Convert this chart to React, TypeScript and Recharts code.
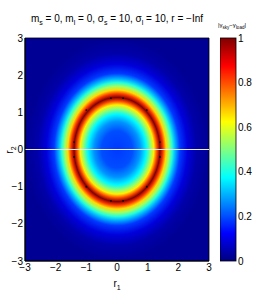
import {ScatterChart, Scatter, XAxis, YAxis, ReferenceArea, ReferenceLine, BarChart, Bar} from "recharts";

// axes
const axisTicks = [-3, -2, -1, 0, 1, 2, 3];
const colorTicks = [0, 0.2, 0.4, 0.6, 0.8, 1];

// radial profile of |γsky − γload| around the origin
const ringRadius = [0, 0.5, 0.75, 0.95, 1.1, 1.2, 1.3, 1.4, 1.5, 1.6, 1.7, 1.8, 1.9, 2.05, 2.3, 2.6, 3];
const ringLevel = [0.18, 0.2, 0.27, 0.37, 0.52, 0.64, 0.8, 1.0, 0.82, 0.66, 0.53, 0.41, 0.3, 0.18, 0.09, 0.04, 0.02];
const backgroundLevel = 0.02;

// small black marks sitting on the ring maximum
const markX = [-0.2, 0.2, -0.2, 0.2, -1.4, -1.4, 1.4, 1.4, -1.0, 0.97, -1.0, 0.97];
const markY = [1.38, 1.38, -1.38, -1.38, 0.2, -0.2, 0.2, -0.2, 1.06, 1.06, -1.0, -1.0];

const font = "'Liberation Sans Narrow', 'Liberation Sans', Arial, sans-serif";

const clamp = (v: number) => Math.max(0, Math.min(1, v));
const jet = (v: number) => {
    const r = clamp(1.5 - Math.abs(4 * v - 3));
    const g = clamp(1.5 - Math.abs(4 * v - 2));
    const b = clamp(1.5 - Math.abs(4 * v - 1));
    const h = (c: number) => Math.round(c * 255).toString(16).padStart(2, "0");
    return `#${h(r)}${h(g)}${h(b)}`;
};

const marks = markX.map((x, i) => ({x, y: markY[i]}));
const outerR = ringRadius[ringRadius.length - 1];
const minus = (v: number) => String(v).replace("-", "\u2212");

const RingShape = (p: any) => (
    <g>
        <defs>
            <radialGradient id="ring" cx="50%" cy="50%" r="50%">
                {ringRadius.map((r, i) => (
                    <stop key={i} offset={r / outerR} stopColor={jet(ringLevel[i])}/>
                ))}
            </radialGradient>
        </defs>
        <ellipse cx={p.x + p.width / 2} cy={p.y + p.height / 2} rx={p.width / 2} ry={p.height / 2} fill="url(#ring)"/>
    </g>
);

const ColorBarShape = (p: any) => (
    <g>
        <defs>
            <linearGradient id="jetbar" x1="0" y1="1" x2="0" y2="0">
                {[0, 0.125, 0.375, 0.625, 0.875, 1].map((v) => (
                    <stop key={v} offset={v} stopColor={jet(v)}/>
                ))}
            </linearGradient>
        </defs>
        <rect x={p.x} y={p.y} width={p.width} height={p.height} fill="url(#jetbar)" stroke="#000" strokeWidth={0.8}/>
    </g>
);

const tickStyle = {fill: "#000", fontSize: 10, fontFamily: font};

const App = () => {
    return (
        <div style={{position: "absolute", left: 0, top: 0, width: 273, height: 300, background: "#fff"}}>
            <ScatterChart width={273} height={300} margin={{top: 38, right: 64, bottom: 9, left: 0}}>
                <XAxis type="number" dataKey="x" domain={[-3, 3]} ticks={axisTicks} allowDataOverflow
                       tickLine={false} tickSize={2} tickMargin={1} height={30} tick={tickStyle}
                       tickFormatter={minus} axisLine={{stroke: "#000"}}/>
                <YAxis type="number" dataKey="y" domain={[-3, 3]} ticks={axisTicks} allowDataOverflow
                       tickLine={false} tickSize={2} tickMargin={0} width={25} tick={tickStyle}
                       tickFormatter={minus} axisLine={{stroke: "#000"}}/>
                <ReferenceArea x1={-3} x2={3} y1={-3} y2={3} fill={jet(backgroundLevel)} fillOpacity={1} stroke="none"/>
                <ReferenceArea x1={-outerR} x2={outerR} y1={-outerR} y2={outerR} shape={RingShape}/>
                <ReferenceLine y={0} stroke="#eeeefa" strokeWidth={1}/>
                <Scatter data={marks} isAnimationActive={false}
                         shape={(p: any) => <circle cx={p.cx} cy={p.cy} r={0.9} fill="#000"/>}/>
                <ReferenceArea x1={-3} x2={3} y1={-3} y2={3} fill="none" stroke="#000" strokeWidth={0.8}/>
            </ScatterChart>

            <div style={{position: "absolute", left: 220, top: 0}}>
                <BarChart width={46} height={300} data={[{name: "c", v: 1}]} barCategoryGap={0}
                          margin={{top: 38, right: 0, bottom: 39, left: 0}}>
                    <XAxis dataKey="name" hide/>
                    <YAxis orientation="right" type="number" domain={[0, 1]} ticks={colorTicks} width={30}
                           tickLine={false} axisLine={false} tickSize={2} tickMargin={0} tick={{...tickStyle, textAnchor: "start"}}/>
                    <Bar dataKey="v" isAnimationActive={false} shape={ColorBarShape}/>
                </BarChart>
            </div>

            <svg width={273} height={300} style={{position: "absolute", left: 0, top: 0, pointerEvents: "none"}}
                 fontFamily={font} fill="#000">
                <text x={117} y={22} fontSize={10} textAnchor="middle">
                    m<tspan fontSize={7} dy={3}>s</tspan><tspan dy={-3}> = 0, m</tspan>
                    <tspan fontSize={7} dy={3}>l</tspan><tspan dy={-3}> = 0, σ</tspan>
                    <tspan fontSize={7} dy={3}>s</tspan><tspan dy={-3}> = 10, σ</tspan>
                    <tspan fontSize={7} dy={3}>l</tspan><tspan dy={-3}> = 10, r = −Inf</tspan>
                </text>
                <text x={232} y={27} fontSize={6} textAnchor="middle">
                    |γ<tspan fontSize={4.5} dy={2}>sky</tspan><tspan dy={-2}>−γ</tspan>
                    <tspan fontSize={4.5} dy={2}>load</tspan><tspan dy={-2}>|</tspan>
                </text>
                <text x={117} y={287} fontSize={10} textAnchor="middle">
                    r<tspan fontSize={7} dy={3}>1</tspan>
                </text>
                <text x={0} y={0} fontSize={10} textAnchor="middle" transform="translate(13 150) rotate(-90)">
                    r<tspan fontSize={7} dy={3}>2</tspan>
                </text>
            </svg>
        </div>
    );
};

export default App;
